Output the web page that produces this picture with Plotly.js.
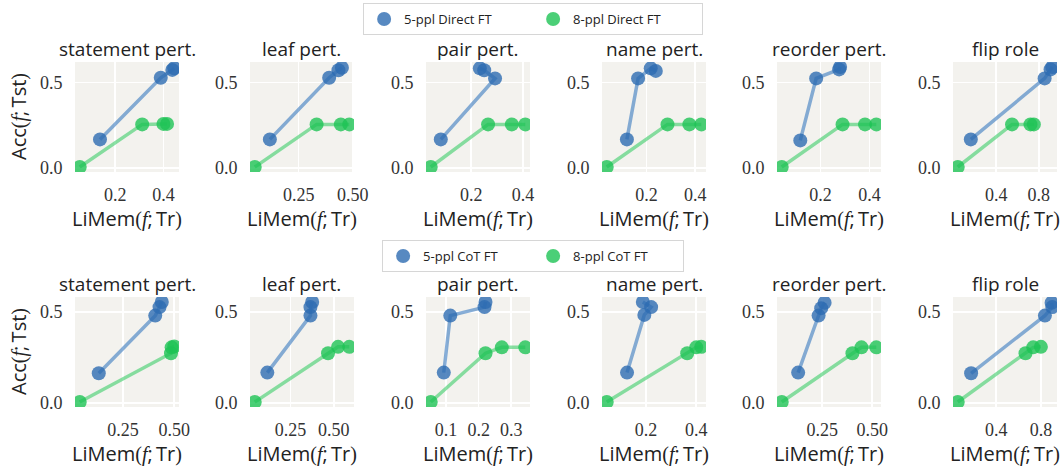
<!DOCTYPE html>
<html>
<head>
<meta charset="utf-8">
<script src="https://cdn.plot.ly/plotly-3.0.1.min.js"></script>
<style>html,body{margin:0;padding:0;background:#fff;}#chart{width:1062px;height:466px;}</style>
</head>
<body>
<div id="chart"></div>
<script>
// ---- data ----
const panelTitles = ['statement pert.', 'leaf pert.', 'pair pert.', 'name pert.', 'reorder pert.', 'flip role'];

// Row 1: Direct FT
const direct5X = [
  [0.137, 0.389, 0.437, 0.445],
  [0.117, 0.391, 0.434, 0.450],
  [0.082, 0.292, 0.250, 0.233],
  [0.119, 0.165, 0.217, 0.238],
  [0.117, 0.182, 0.276, 0.280],
  [0.161, 0.854, 0.910, 0.926]
];
const direct5Y = [
  [0.167, 0.529, 0.575, 0.585],
  [0.167, 0.529, 0.573, 0.588],
  [0.167, 0.525, 0.573, 0.584],
  [0.167, 0.525, 0.584, 0.569],
  [0.161, 0.525, 0.578, 0.592],
  [0.167, 0.525, 0.578, 0.592]
];
const direct8X = [
  [0.053, 0.312, 0.400, 0.415],
  [0.047, 0.333, 0.445, 0.484],
  [0.043, 0.265, 0.357, 0.409],
  [0.036, 0.286, 0.376, 0.425],
  [0.041, 0.290, 0.382, 0.428],
  [0.038, 0.548, 0.721, 0.753]
];
const direct8Y = [
  [0.005, 0.255, 0.258, 0.258],
  [0.005, 0.255, 0.255, 0.255],
  [0.005, 0.255, 0.255, 0.255],
  [0.005, 0.255, 0.255, 0.255],
  [0.005, 0.255, 0.255, 0.255],
  [0.005, 0.255, 0.255, 0.255]
];

// Row 2: CoT FT
const cot5X = [
  [0.131, 0.407, 0.428, 0.439],
  [0.115, 0.365, 0.365, 0.375],
  [0.093, 0.113, 0.218, 0.221],
  [0.124, 0.193, 0.220, 0.187],
  [0.130, 0.232, 0.245, 0.262],
  [0.174, 0.836, 0.902, 0.896]
];
const cot5Y = [
  [0.163, 0.481, 0.528, 0.556],
  [0.167, 0.481, 0.528, 0.556],
  [0.167, 0.481, 0.528, 0.556],
  [0.167, 0.485, 0.528, 0.556],
  [0.167, 0.481, 0.522, 0.552],
  [0.163, 0.481, 0.528, 0.552]
];
const cot8X = [
  [0.038, 0.484, 0.487, 0.500],
  [0.042, 0.467, 0.525, 0.590],
  [0.053, 0.221, 0.271, 0.343],
  [0.043, 0.364, 0.400, 0.420],
  [0.048, 0.401, 0.446, 0.520],
  [0.054, 0.662, 0.731, 0.800]
];
const cot8Y = [
  [0.005, 0.274, 0.306, 0.311],
  [0.005, 0.274, 0.309, 0.309],
  [0.005, 0.274, 0.306, 0.306],
  [0.005, 0.274, 0.306, 0.309],
  [0.005, 0.274, 0.306, 0.306],
  [0.005, 0.274, 0.306, 0.309]
];

const xTickVals1 = [[0.2, 0.4], [0.25, 0.5], [0.2, 0.4], [0.2, 0.4], [0.2, 0.4], [0.4, 0.8]];
const xTickText1 = [['0.2', '0.4'], ['0.25', '0.50'], ['0.2', '0.4'], ['0.2', '0.4'], ['0.2', '0.4'], ['0.4', '0.8']];
const xTickVals2 = [[0.25, 0.5], [0.25, 0.5], [0.1, 0.2, 0.3], [0.2, 0.4], [0.25, 0.5], [0.4, 0.8]];
const xTickText2 = [['0.25', '0.50'], ['0.25', '0.50'], ['0.1', '0.2', '0.3'], ['0.2', '0.4'], ['0.25', '0.50'], ['0.4', '0.8']];
const yTickVals = [0, 0.5];
const yTickText = ['0.0', '0.5'];

const seriesNames = ['5-ppl Direct FT', '8-ppl Direct FT', '5-ppl CoT FT', '8-ppl CoT FT'];

// ---- styling / layout ----
const W = 1062, H = 466;
const colLeft = [75, 250, 426, 602, 777, 953];
const colW = 104;
const rowTop = [62, 297];
const rowH = 110;

const blueM = 'rgba(45,108,178,0.8)';
const blueL = 'rgba(70,130,195,0.65)';
const greenM = 'rgba(30,195,85,0.8)';
const greenL = 'rgba(60,205,105,0.6)';

const sansFont = '"Open Sans", Lato, sans-serif';
const serifFont = '"Liberation Serif", "DejaVu Serif", serif';
const sf = s => '<span style="font-family:\'Liberation Serif\', serif">' + s + '</span>';
const xTitle = 'LiMem' + sf('(<i>f</i>') + ';\u2009Tr' + sf(')');
const yTitle = 'Acc' + sf('(<i>f</i>') + ';\u2009Tst' + sf(')');

function rng(arrs, pad) {
  let lo = Infinity, hi = -Infinity;
  arrs.forEach(a => a.forEach(v => { lo = Math.min(lo, v); hi = Math.max(hi, v); }));
  const m = (hi - lo) * pad;
  return [lo - m, hi + m];
}

const traces = [];
const layout = {
  width: W, height: H,
  margin: {l: 0, r: 0, t: 0, b: 0},
  paper_bgcolor: '#ffffff',
  plot_bgcolor: '#f3f2ee',
  showlegend: true,
  annotations: [],
  legend: {
    orientation: 'h', x: 0.502, xanchor: 'center', y: 1 - 3 / H, yanchor: 'top',
    bgcolor: 'rgba(255,255,255,0.9)', bordercolor: '#d6d6d6', borderwidth: 1,
    font: {family: sansFont, size: 13, color: '#222'}, entrywidth: 124, itemsizing: 'trace'
  },
  legend2: {
    orientation: 'h', x: 0.502, xanchor: 'center', y: 1 - 240 / H, yanchor: 'top',
    bgcolor: 'rgba(255,255,255,0.9)', bordercolor: '#d6d6d6', borderwidth: 1,
    font: {family: sansFont, size: 13, color: '#222'}, entrywidth: 105, itemsizing: 'trace'
  }
};

const rows = [
  {a: [direct5X, direct5Y], b: [direct8X, direct8Y], names: [seriesNames[0], seriesNames[1]], tv: xTickVals1, tt: xTickText1, leg: 'legend'},
  {a: [cot5X, cot5Y], b: [cot8X, cot8Y], names: [seriesNames[2], seriesNames[3]], tv: xTickVals2, tt: xTickText2, leg: 'legend2'}
];

rows.forEach((row, r) => {
  const yr = rng(row.a[1].concat(row.b[1]), 0.05);
  for (let c = 0; c < 6; c++) {
    const idx = r * 6 + c + 1;
    const xa = 'x' + (idx === 1 ? '' : idx), ya = 'y' + (idx === 1 ? '' : idx);
    const xKey = 'xaxis' + (idx === 1 ? '' : idx), yKey = 'yaxis' + (idx === 1 ? '' : idx);
    const xr = rng([row.a[0][c], row.b[0][c]], 0.05);
    const x0 = colLeft[c] / W, x1 = (colLeft[c] + colW) / W;
    const y1 = 1 - rowTop[r] / H, y0 = 1 - (rowTop[r] + rowH) / H;
    layout[xKey] = {
      domain: [x0, x1], anchor: ya, range: xr, tickvals: row.tv[c], ticktext: row.tt[c],
      showgrid: true, gridcolor: '#ffffff', gridwidth: 1.6, zeroline: false, showline: false,
      ticks: 'outside', ticklen: 6, tickcolor: 'rgba(0,0,0,0)',
      tickfont: {family: serifFont, size: 18, color: '#333'}
    };
    layout[yKey] = {
      domain: [y0, y1], anchor: xa, range: yr, tickvals: yTickVals, ticktext: yTickText,
      showgrid: true, gridcolor: '#ffffff', gridwidth: 1.6, zeroline: false, showline: false,
      ticks: 'outside', ticklen: 8, tickcolor: 'rgba(0,0,0,0)',
      tickfont: {family: serifFont, size: 18, color: '#333'}
    };
    [[row.a, blueL], [row.b, greenL]].forEach(([s, lc]) => {
      traces.push({
        type: 'scatter', mode: 'lines', x: s[0][c], y: s[1][c], xaxis: xa, yaxis: ya,
        line: {color: lc, width: 3.5}, showlegend: false, hoverinfo: 'skip'
      });
    });
    [[row.a, blueM, row.names[0]], [row.b, greenM, row.names[1]]].forEach(([s, mc, nm]) => {
      traces.push({
        type: 'scatter', mode: 'markers', x: s[0][c], y: s[1][c], xaxis: xa, yaxis: ya,
        marker: {color: mc, size: 14, line: {width: 0}}, name: nm,
        showlegend: c === 0, legend: row.leg
      });
    });
    // panel title
    layout.annotations.push({
      xref: 'paper', yref: 'paper', x: (x0 + x1) / 2, y: 1 - (rowTop[r] - 13) / H,
      xanchor: 'center', yanchor: 'middle', showarrow: false, text: panelTitles[c],
      font: {family: sansFont, size: 19, color: '#222'}
    });
    // x axis title
    layout.annotations.push({
      xref: 'paper', yref: 'paper', x: (x0 + x1) / 2, y: 1 - (rowTop[r] + rowH + 46) / H,
      xanchor: 'center', yanchor: 'middle', showarrow: false,
      text: xTitle,
      font: {family: sansFont, size: 20, color: '#222'}
    });
  }
  // y axis title
  layout.annotations.push({
    xref: 'paper', yref: 'paper', x: 18 / W, y: 1 - (rowTop[r] + rowH / 2) / H,
    xanchor: 'center', yanchor: 'middle', showarrow: false, textangle: -90,
    text: yTitle,
    font: {family: sansFont, size: 20, color: '#222'}
  });
});

Plotly.newPlot('chart', traces, layout, {displayModeBar: false, staticPlot: true});
</script>
</body>
</html>
